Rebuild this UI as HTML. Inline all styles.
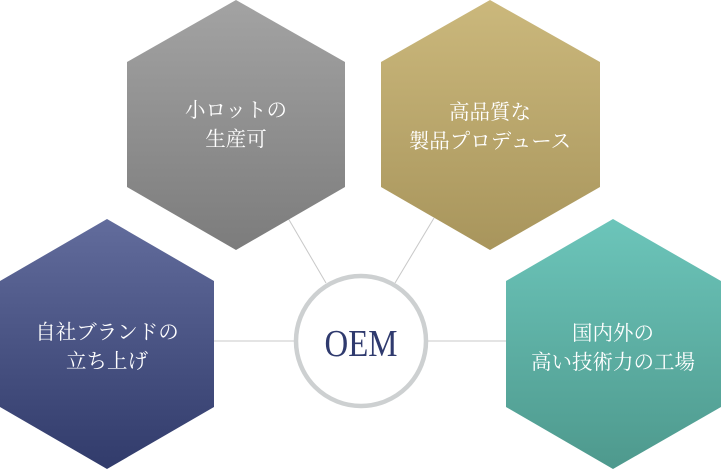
<!DOCTYPE html>
<html><head><meta charset="utf-8"><style>
html,body{margin:0;padding:0;background:#fff;}
svg text{font-family:"Liberation Serif","Noto Serif CJK SC",serif;fill:#fff;font-size:20.5px;text-anchor:middle;}
</style></head><body>
<svg width="721" height="469" viewBox="0 0 721 469" xmlns="http://www.w3.org/2000/svg">
<defs>
<linearGradient id="g1" x1="0" y1="0" x2="0" y2="1"><stop offset="0" stop-color="#a3a3a3"/><stop offset="1" stop-color="#7c7c7c"/></linearGradient>
<linearGradient id="g2" x1="0" y1="0" x2="0" y2="1"><stop offset="0" stop-color="#cbb87c"/><stop offset="1" stop-color="#a8955c"/></linearGradient>
<linearGradient id="g3" x1="0" y1="0" x2="0" y2="1"><stop offset="0" stop-color="#626c9c"/><stop offset="1" stop-color="#313b6b"/></linearGradient>
<linearGradient id="g4" x1="0" y1="0" x2="0" y2="1"><stop offset="0" stop-color="#6cc5ba"/><stop offset="1" stop-color="#4e998d"/></linearGradient>
</defs>
<g stroke="#c8c8c8" stroke-width="1">
<line x1="288" y1="218" x2="326" y2="283"/>
<line x1="434" y1="218" x2="395" y2="283"/>
<line x1="214" y1="341" x2="295" y2="341"/>
<line x1="428" y1="341" x2="506" y2="341"/>
</g>
<polygon points="236,0 345,62 345,187 236,250 127,187 127,62" fill="url(#g1)"/>
<polygon points="490,0 600,62 600,187 490,250 381,187 381,62" fill="url(#g2)"/>
<polygon points="107,219 214,281 214,407 107,469 0,407 0,281" fill="url(#g3)"/>
<polygon points="613,219 721,281 721,407 613,469 506,407 506,281" fill="url(#g4)"/>
<circle cx="361" cy="341" r="65" fill="#fff" stroke="#cdd0d1" stroke-width="4.5"/>
<text x="361" y="356" textLength="73" lengthAdjust="spacingAndGlyphs" style="fill:#2f3a6e;font-size:38px;">OEM</text>
<text x="236" y="117">小ロットの</text>
<text x="236" y="146">生産可</text>
<text x="490" y="119">高品質な</text>
<text x="490" y="148">製品プロデュース</text>
<text x="107" y="339">自社ブランドの</text>
<text x="107" y="368">立ち上げ</text>
<text x="613" y="340">国内外の</text>
<text x="613" y="369">高い技術力の工場</text>
</svg>
</body></html>
